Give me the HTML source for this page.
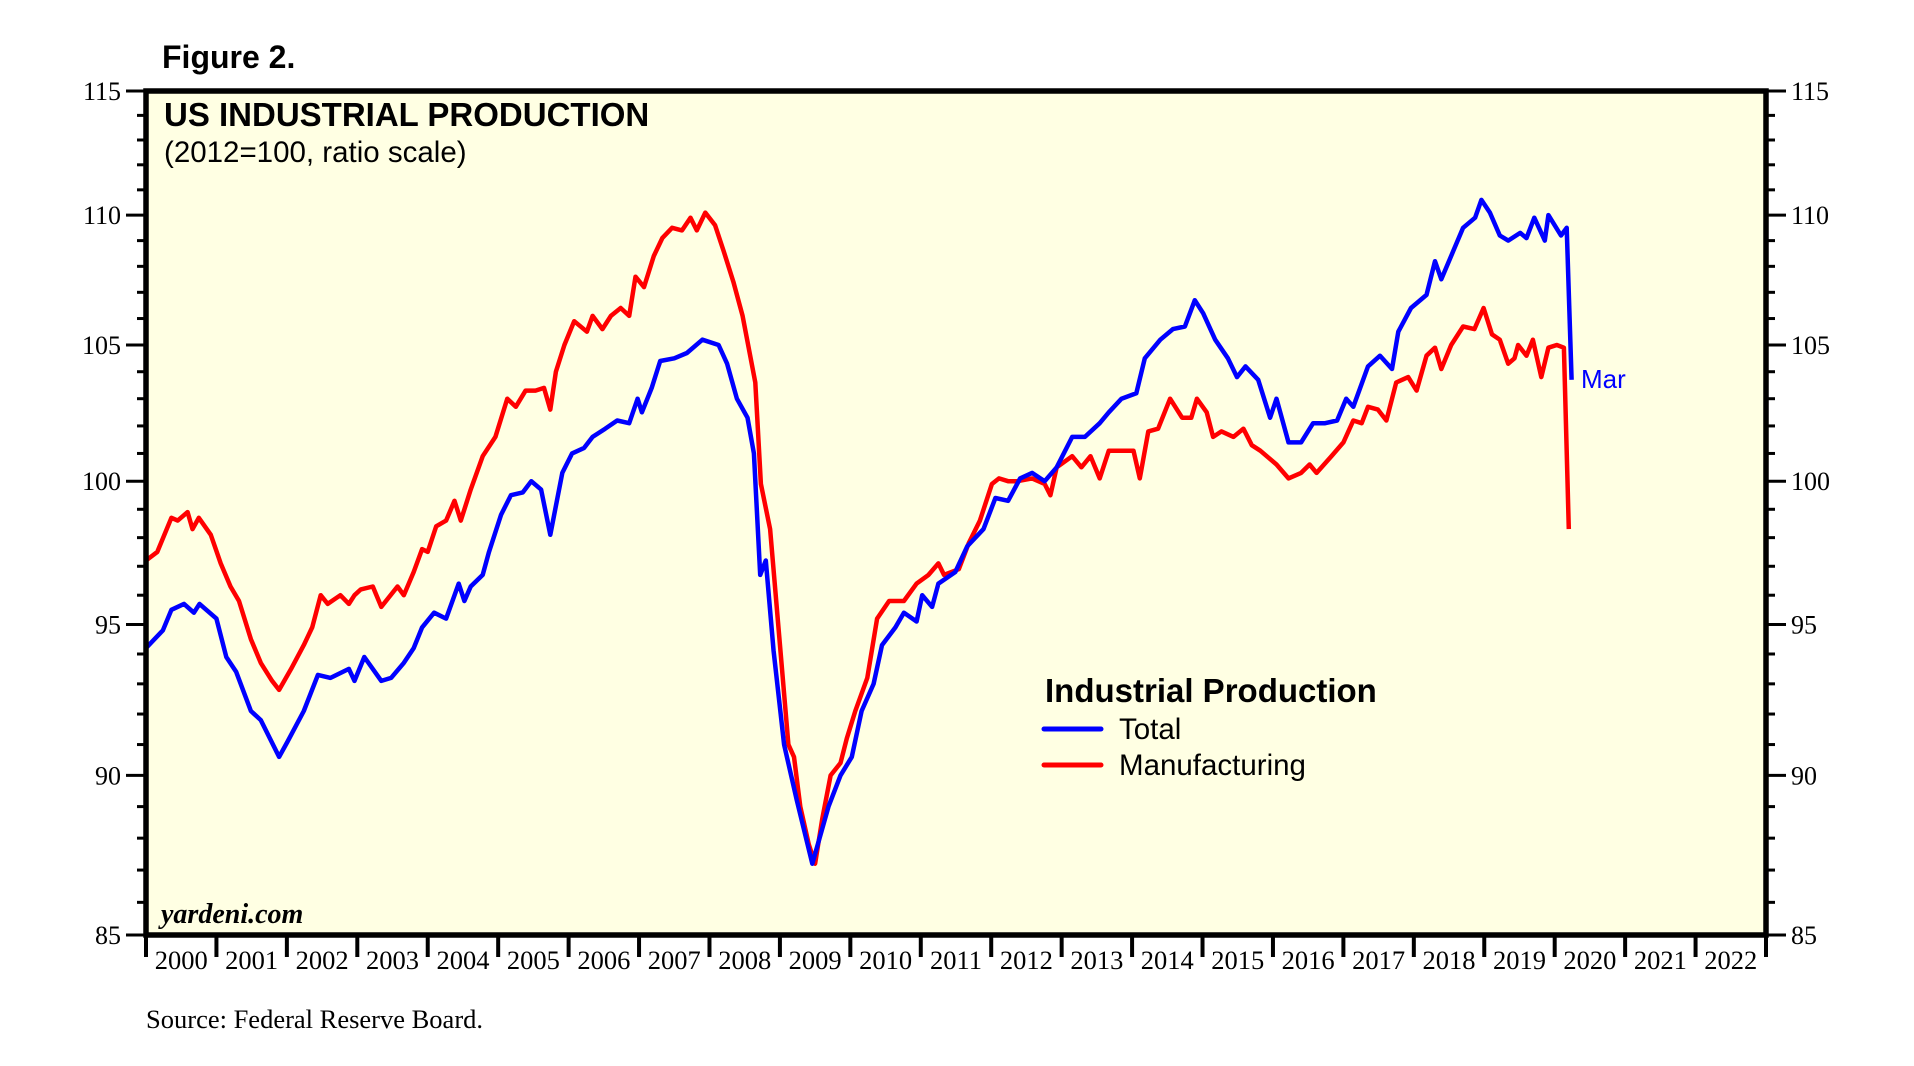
<!DOCTYPE html>
<html><head><meta charset="utf-8"><style>
html,body{margin:0;padding:0;background:#fff;}
svg{display:block;}
.sans{font-family:"Liberation Sans",sans-serif;}
.serif{font-family:"Liberation Serif",serif;}
</style></head><body>
<svg id="chart" width="1914" height="1066" viewBox="0 0 1914 1066" xmlns="http://www.w3.org/2000/svg">
<rect x="146" y="91" width="1620" height="844" fill="#FFFFE3"/>
<g id="grid"></g>
<g id="series"></g>
<rect x="146" y="91" width="1620" height="844" fill="none" stroke="#000" stroke-width="5.5"/>
<text x="162" y="68" class="sans" font-size="32" font-weight="bold">Figure 2.</text>
<text x="164" y="126" class="sans" font-size="33" font-weight="bold">US INDUSTRIAL PRODUCTION</text>
<text x="164" y="162" class="sans" font-size="29.5">(2012=100, ratio scale)</text>
<text x="161" y="923" class="serif" font-size="28" font-weight="bold" font-style="italic">yardeni.com</text>
<text x="146" y="1028" class="serif" font-size="26.5">Source: Federal Reserve Board.</text>
<g>
<text x="1045" y="702" class="sans" font-size="33" font-weight="bold">Industrial Production</text>
<line x1="1044" y1="729" x2="1101" y2="729" stroke="#0000FF" stroke-width="5" stroke-linecap="round"/>
<text x="1119" y="739" class="sans" font-size="29.5">Total</text>
<line x1="1044" y1="765" x2="1101" y2="765" stroke="#FF0000" stroke-width="5" stroke-linecap="round"/>
<text x="1119" y="775" class="sans" font-size="29.5">Manufacturing</text>
</g>
<text x="1581" y="388" class="sans" font-size="26" fill="#0000FF">Mar</text>
</svg>
<script>
const totalDates=[2000.00,2000.24,2000.36,2000.54,2000.68,2000.76,2001.00,2001.14,2001.28,2001.49,2001.63,2001.89,2002.01,2002.24,2002.44,2002.62,2002.88,2002.96,2003.10,2003.34,2003.48,2003.66,2003.80,2003.92,2004.09,2004.26,2004.44,2004.52,2004.61,2004.78,2004.87,2005.04,2005.18,2005.35,2005.47,2005.61,2005.74,2005.91,2006.05,2006.22,2006.34,2006.52,2006.69,2006.86,2006.98,2007.04,2007.18,2007.30,2007.50,2007.68,2007.90,2008.13,2008.25,2008.39,2008.54,2008.63,2008.72,2008.80,2008.91,2009.06,2009.24,2009.46,2009.69,2009.86,2010.02,2010.16,2010.33,2010.45,2010.64,2010.76,2010.94,2011.02,2011.16,2011.25,2011.49,2011.66,2011.89,2012.06,2012.24,2012.41,2012.58,2012.76,2012.93,2013.15,2013.33,2013.54,2013.67,2013.85,2014.06,2014.18,2014.40,2014.58,2014.75,2014.89,2015.01,2015.18,2015.36,2015.49,2015.61,2015.79,2015.96,2016.05,2016.22,2016.40,2016.57,2016.74,2016.91,2017.04,2017.14,2017.35,2017.52,2017.69,2017.78,2017.96,2018.18,2018.30,2018.39,2018.56,2018.70,2018.87,2018.96,2019.08,2019.22,2019.34,2019.51,2019.60,2019.71,2019.86,2019.91,2020.09,2020.17,2020.24];
const totalValues=[94.2,94.8,95.5,95.7,95.4,95.7,95.2,93.9,93.4,92.1,91.8,90.6,91.1,92.1,93.3,93.2,93.5,93.1,93.9,93.1,93.2,93.7,94.2,94.9,95.4,95.2,96.4,95.8,96.3,96.7,97.5,98.8,99.5,99.6,100.0,99.7,98.1,100.3,101.0,101.2,101.6,101.9,102.2,102.1,103.0,102.5,103.4,104.4,104.5,104.7,105.2,105.0,104.3,103.0,102.3,101.0,96.7,97.2,94.1,91.0,89.2,87.2,89.0,90.0,90.6,92.1,93.0,94.3,94.9,95.4,95.1,96.0,95.6,96.4,96.8,97.7,98.3,99.4,99.3,100.1,100.3,100.0,100.5,101.6,101.6,102.1,102.5,103.0,103.2,104.5,105.2,105.6,105.7,106.7,106.2,105.2,104.5,103.8,104.2,103.7,102.3,103.0,101.4,101.4,102.1,102.1,102.2,103.0,102.7,104.2,104.6,104.1,105.5,106.4,106.9,108.2,107.5,108.6,109.5,109.9,110.6,110.1,109.2,109.0,109.3,109.1,109.9,109.0,110.0,109.2,109.5,103.7];
const mfgDates=[2000.00,2000.16,2000.36,2000.45,2000.59,2000.66,2000.75,2000.92,2001.06,2001.20,2001.32,2001.49,2001.63,2001.79,2001.89,2002.06,2002.24,2002.36,2002.48,2002.58,2002.76,2002.88,2002.96,2003.05,2003.22,2003.34,2003.57,2003.66,2003.80,2003.92,2004.00,2004.12,2004.26,2004.38,2004.47,2004.61,2004.78,2004.96,2005.13,2005.25,2005.39,2005.53,2005.65,2005.74,2005.82,2005.94,2006.08,2006.26,2006.34,2006.48,2006.60,2006.74,2006.86,2006.95,2007.07,2007.21,2007.33,2007.47,2007.61,2007.73,2007.82,2007.94,2008.08,2008.20,2008.34,2008.47,2008.65,2008.73,2008.86,2009.03,2009.12,2009.20,2009.29,2009.41,2009.50,2009.60,2009.72,2009.86,2009.95,2010.07,2010.24,2010.38,2010.55,2010.76,2010.94,2011.11,2011.25,2011.33,2011.54,2011.68,2011.84,2012.01,2012.11,2012.24,2012.37,2012.58,2012.76,2012.84,2012.93,2013.15,2013.28,2013.41,2013.54,2013.67,2013.85,2014.02,2014.11,2014.23,2014.37,2014.54,2014.71,2014.84,2014.92,2015.06,2015.15,2015.27,2015.44,2015.58,2015.70,2015.82,2016.05,2016.22,2016.40,2016.52,2016.62,2016.83,2017.00,2017.14,2017.26,2017.35,2017.49,2017.61,2017.75,2017.92,2018.04,2018.18,2018.30,2018.39,2018.53,2018.70,2018.86,2018.99,2019.11,2019.22,2019.34,2019.43,2019.48,2019.60,2019.69,2019.81,2019.91,2020.03,2020.13,2020.20];
const mfgValues=[97.2,97.5,98.7,98.6,98.9,98.3,98.7,98.1,97.1,96.3,95.8,94.5,93.7,93.1,92.8,93.5,94.3,94.9,96.0,95.7,96.0,95.7,96.0,96.2,96.3,95.6,96.3,96.0,96.8,97.6,97.5,98.4,98.6,99.3,98.6,99.7,100.9,101.6,103.0,102.7,103.3,103.3,103.4,102.6,104.0,105.0,105.9,105.5,106.1,105.6,106.1,106.4,106.1,107.6,107.2,108.4,109.1,109.5,109.4,109.9,109.4,110.1,109.6,108.6,107.4,106.1,103.6,99.9,98.3,93.5,91.0,90.6,89.0,87.8,87.2,88.6,90.0,90.4,91.2,92.1,93.2,95.2,95.8,95.8,96.4,96.7,97.1,96.7,96.9,97.8,98.6,99.9,100.1,100.0,100.0,100.1,99.9,99.5,100.5,100.9,100.5,100.9,100.1,101.1,101.1,101.1,100.1,101.8,101.9,103.0,102.3,102.3,103.0,102.5,101.6,101.8,101.6,101.9,101.3,101.1,100.6,100.1,100.3,100.6,100.3,100.9,101.4,102.2,102.1,102.7,102.6,102.2,103.6,103.8,103.3,104.6,104.9,104.1,105.0,105.7,105.6,106.4,105.4,105.2,104.3,104.5,105.0,104.6,105.2,103.8,104.9,105.0,104.9,98.3];
const yTicks=[85,90,95,100,105,110,115];
const yearLabels=[2000,2001,2002,2003,2004,2005,2006,2007,2008,2009,2010,2011,2012,2013,2014,2015,2016,2017,2018,2019,2020,2021,2022];

const NS='http://www.w3.org/2000/svg';
const L=146,R=1766,T=91,B=935,yMin=85,yMax=115,x0=2000,x1=2023;
function xs(v){return L+(v-x0)/(x1-x0)*(R-L);}
function ys(v){return B-(Math.log(v)-Math.log(yMin))/(Math.log(yMax)-Math.log(yMin))*(B-T);}
function mk(tag,attrs,parent){const e=document.createElementNS(NS,tag);for(const k in attrs)e.setAttribute(k,attrs[k]);parent.appendChild(e);return e;}
const g=document.getElementById('grid');
for(let v=85;v<=115;v++){
  const major=yTicks.includes(v);
  const len=major?20:9;
  const y=ys(v);
  const tl=mk('line',{x1:L-len,y1:y,x2:L,y2:y,stroke:'#000','stroke-width':3},g);
  
  
  const tr=mk('line',{x1:R,y1:y,x2:R+len,y2:y,stroke:'#000','stroke-width':3},g);
  
  
}
yTicks.forEach(v=>{
  const a=mk('text',{x:L-25,y:ys(v)+9,'text-anchor':'end','font-size':26,'class':'serif'},g);
  a.textContent=v;
  
  
  const b=mk('text',{x:R+25,y:ys(v)+9,'font-size':26,'class':'serif'},g);
  b.textContent=v;
  
  
});
for(let yr=x0;yr<=x1;yr++){
  const t=mk('line',{x1:xs(yr),y1:B,x2:xs(yr),y2:B+22,stroke:'#000','stroke-width':4},g);
  
  
}
yearLabels.forEach(yr=>{
  const t=mk('text',{x:xs(yr+0.5),y:B+34,'text-anchor':'middle','font-size':26.5,'class':'serif'},g);
  t.textContent=yr;
  
  
});
const s=document.getElementById('series');
function line(dates,vals,color,name){
  const d=dates.map((t,i)=>(i?'L':'M')+xs(t).toFixed(1)+' '+ys(vals[i]).toFixed(1)).join(' ');
  const p=mk('path',{d:d,fill:'none',stroke:color,'stroke-width':4.5,'stroke-linejoin':'round'},s);
  
  
}
line(mfgDates,mfgValues,'#FF0000','manufacturing-line');
line(totalDates,totalValues,'#0000FF','total-line');
</script>
</body></html>
